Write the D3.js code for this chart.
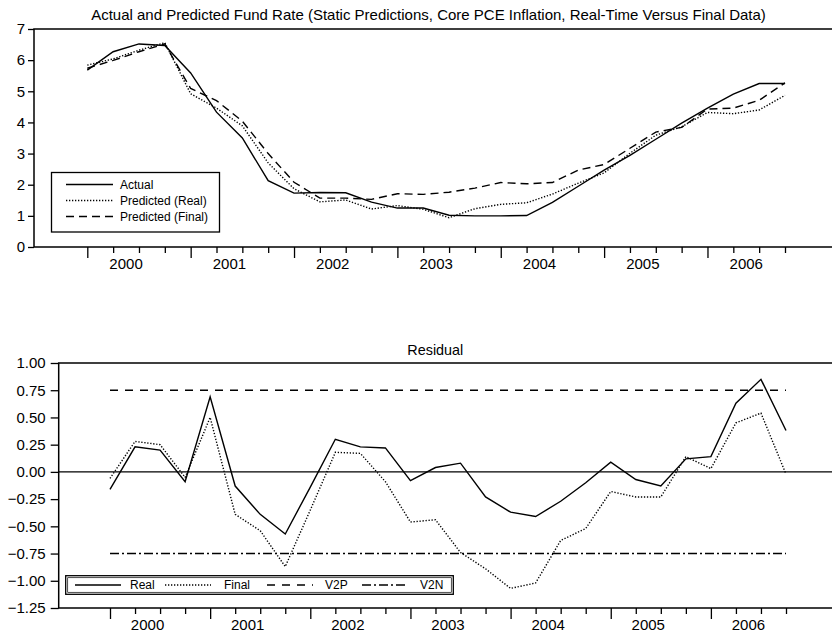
<!DOCTYPE html>
<html>
<head>
<meta charset="utf-8">
<title>Actual and Predicted Fund Rate</title>
<script src="https://d3js.org/d3.v7.min.js"></script>
<style>
  body { margin: 0; background: #fff; }
  svg { display: block; font-family: "Liberation Sans", Arial, sans-serif; }
</style>
</head>
<body>
<script>
'use strict';
// quarters 2000Q1 .. 2006Q4
const years = [2000, 2001, 2002, 2003, 2004, 2005, 2006];
const quarters = years.flatMap(y => [1, 2, 3, 4].map(q => y + 'Q' + q));

// top panel: fund rate, percent
const actual = [5.68, 6.27, 6.52, 6.47, 5.59, 4.33, 3.50, 2.13, 1.73, 1.75, 1.74, 1.44, 1.25, 1.25,
                1.02, 1.00, 1.00, 1.01, 1.43, 1.95, 2.47, 2.94, 3.46, 3.98, 4.46, 4.91, 5.25, 5.25];
const predReal = [5.84, 6.04, 6.32, 6.56, 4.92, 4.46, 3.89, 2.70, 1.87, 1.45, 1.51, 1.22, 1.33, 1.21,
                  0.94, 1.23, 1.37, 1.42, 1.70, 2.05, 2.38, 3.01, 3.59, 3.86, 4.32, 4.28, 4.40, 4.87];
const predFinal = [5.74, 5.99, 6.27, 6.52, 5.09, 4.70, 4.04, 3.00, 2.08, 1.57, 1.57, 1.53, 1.71, 1.69,
                   1.76, 1.89, 2.07, 2.03, 2.07, 2.47, 2.65, 3.17, 3.69, 3.84, 4.43, 4.46, 4.71, 5.27];
const topTicks = [0, 1, 2, 3, 4, 5, 6, 7];

// bottom panel: residuals
const residReal = [-0.16, 0.23, 0.20, -0.09, 0.69, -0.13, -0.39, -0.57, -0.14, 0.30, 0.23, 0.22, -0.08, 0.04,
                   0.08, -0.23, -0.37, -0.41, -0.27, -0.10, 0.09, -0.07, -0.13, 0.12, 0.14, 0.63, 0.85, 0.38];
const residFinal = [-0.06, 0.28, 0.25, -0.05, 0.50, -0.39, -0.54, -0.87, -0.35, 0.18, 0.17, -0.09, -0.46, -0.44,
                    -0.74, -0.89, -1.07, -1.02, -0.63, -0.52, -0.18, -0.23, -0.23, 0.14, 0.03, 0.45, 0.54, -0.02];
const v2p = 0.75;
const v2n = -0.75;
const bottomTicks = [1.00, 0.75, 0.50, 0.25, 0.00, -0.25, -0.50, -0.75, -1.00, -1.25];

const W = 832, H = 637;
const svg = d3.select('body').append('svg').attr('width', W).attr('height', H);

const styles = {
  solid:   { dash: null,       width: 1.4 },
  dotted:  { dash: '1.3,1.7',  width: 1.4 },
  dashed:  { dash: '8,5',      width: 1.4 },
  dashdot: { dash: '9,3,2,3',  width: 1.4 }
};

function styled(sel, s) {
  return sel.attr('fill', 'none').attr('stroke', '#000')
    .attr('stroke-width', styles[s].width)
    .attr('stroke-dasharray', styles[s].dash);
}

/**
 * panel frame, axes and year labels
 */
function panel(p) {
  const g = svg.append('g');
  // frame: top, left, bottom (right edge runs off the page)
  g.append('path')
    .attr('d', `M${W + 5},${p.top}H${p.left}V${p.bottom}H${W + 5}`)
    .attr('fill', 'none').attr('stroke', '#000').attr('stroke-width', 1.5);

  const yAxis = g.append('g').attr('transform', `translate(${p.left},0)`)
    .call(d3.axisLeft(p.y).tickValues(p.ticks).tickSize(p.ytick).tickPadding(p.ypad).tickFormat(p.fmt));
  yAxis.select('.domain').remove();
  yAxis.selectAll('line').attr('stroke-width', 1.3);
  yAxis.selectAll('text').attr('font-size', 15).attr('fill', '#000');

  const xAxis = g.append('g').attr('transform', `translate(0,${p.bottom})`)
    .call(d3.axisBottom(p.x).tickValues(d3.range(quarters.length)).tickSize(6).tickFormat(''));
  xAxis.select('.domain').remove();
  xAxis.selectAll('.tick line')
    .attr('stroke-width', 1.3)
    .attr('y2', i => quarters[i].endsWith('Q1') ? 11 : 6);

  g.selectAll('.year').data(years).enter().append('text')
    .attr('x', (d, k) => p.x(k * 4 + 1.5))
    .attr('y', p.bottom + 22)
    .attr('text-anchor', 'middle').attr('font-size', 15)
    .text(d => d);
  return g;
}

// ---------- top panel ----------
const xTop = d3.scaleLinear().domain([0, 27]).range([87.3, 785]);
const yTop = d3.scaleLinear().domain([0, 7]).range([247, 29]);
panel({ x: xTop, y: yTop, left: 34, top: 29, bottom: 247, ticks: topTicks,
        ytick: 6, ypad: 3, fmt: d3.format('d') });

svg.append('text').attr('x', 428.5).attr('y', 19.5).attr('text-anchor', 'middle').attr('font-size', 15)
  .text('Actual and Predicted Fund Rate (Static Predictions, Core PCE Inflation, Real-Time Versus Final Data)');

const lineTop = d3.line().x((d, i) => xTop(i)).y(d => yTop(d));
[[predFinal, 'dashed'], [predReal, 'dotted'], [actual, 'solid']].forEach(([s, st]) => {
  styled(svg.append('path').datum(s).attr('d', lineTop), st);
});

const topLegend = [['Actual', 'solid'], ['Predicted (Real)', 'dotted'], ['Predicted (Final)', 'dashed']];
svg.append('rect').attr('x', 51.5).attr('y', 172.5).attr('width', 168).attr('height', 59.5)
  .attr('fill', '#fff').attr('stroke', '#000').attr('stroke-width', 1.3);
topLegend.forEach(([label, st], i) => {
  const yy = 184.5 + i * 16;
  styled(svg.append('line').attr('x1', 66).attr('x2', 113).attr('y1', yy).attr('y2', yy), st);
  svg.append('text').attr('x', 120).attr('y', yy + 4.5).attr('font-size', 12).text(label);
});

// ---------- bottom panel ----------
const xBot = d3.scaleLinear().domain([0, 27]).range([110, 786]);
const yBot = d3.scaleLinear().domain([-1.25, 1]).range([608, 363]);
panel({ x: xBot, y: yBot, left: 58.7, top: 363, bottom: 608, ticks: bottomTicks,
        ytick: 8, ypad: 5, fmt: d3.format('.2f') });

svg.append('text').attr('x', 435.3).attr('y', 355).attr('text-anchor', 'middle').attr('font-size', 14.4)
  .text('Residual');

// zero line
svg.append('line').attr('x1', 58.7).attr('x2', W + 5).attr('y1', yBot(0)).attr('y2', yBot(0))
  .attr('stroke', '#000').attr('stroke-width', 1.4);

styled(svg.append('line').attr('x1', xBot(0)).attr('x2', xBot(27))
  .attr('y1', yBot(v2p)).attr('y2', yBot(v2p)), 'dashed').attr('stroke-dasharray', '8,7');
styled(svg.append('line').attr('x1', xBot(0)).attr('x2', xBot(27))
  .attr('y1', yBot(v2n)).attr('y2', yBot(v2n)), 'dashdot');

const lineBot = d3.line().x((d, i) => xBot(i)).y(d => yBot(d));
styled(svg.append('path').datum(residFinal).attr('d', lineBot), 'dotted');
styled(svg.append('path').datum(residReal).attr('d', lineBot), 'solid');

const botLegend = [['Real', 'solid', 75, 130], ['Final', 'dotted', 165, 224],
                   ['V2P', 'dashed', 267, 325], ['V2N', 'dashdot', 362, 420]];
svg.append('rect').attr('x', 65.7).attr('y', 575.7).attr('width', 387.6).attr('height', 18.6)
  .attr('fill', '#fff').attr('stroke', '#000').attr('stroke-width', 1.3);
svg.append('rect').attr('x', 67.7).attr('y', 577.7).attr('width', 383.6).attr('height', 14.6)
  .attr('fill', 'none').attr('stroke', '#000').attr('stroke-width', 0.7);
botLegend.forEach(([label, st, x0, tx]) => {
  const ln = styled(svg.append('line').attr('x1', x0).attr('x2', x0 + 46).attr('y1', 585).attr('y2', 585), st);
  if (st === 'dashed') ln.attr('stroke-dasharray', '8,7');
  svg.append('text').attr('x', tx).attr('y', 589.3).attr('font-size', 12).text(label);
});
</script>
</body>
</html>
